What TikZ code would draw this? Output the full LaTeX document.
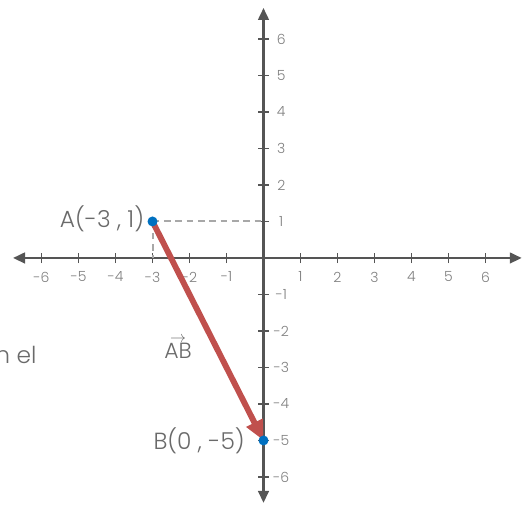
\documentclass[tikz,border=0pt]{standalone}
\usepackage{fontspec}
\IfFontExistsTF{Poppins Light}{\setmainfont{Poppins Light}}{\setmainfont{Poppins}}
\usetikzlibrary{arrows.meta}
\definecolor{axisgray}{HTML}{555555}
\definecolor{ticklab}{HTML}{7F7F7F}
\definecolor{ptlab}{HTML}{6A6A6A}
\definecolor{vecred}{HTML}{C0504D}
\definecolor{ptblue}{HTML}{0070C0}
\definecolor{dashgray}{HTML}{A8A8A8}
\tikzset{
  axis/.style={draw=axisgray, line width=1.8pt, -{Triangle[length=9pt,width=8pt]}},
  tickmark/.style={draw=axisgray, line width=1.4pt},
  ticklabel/.style={text=ticklab, font=\fontsize{10.5}{12}\selectfont, inner sep=0pt},
  ptlabel/.style={text=ptlab, font=\fontsize{17.5}{20}\selectfont, inner sep=0pt},
  guide/.style={draw=dashgray, line width=1.5pt, dash pattern=on 5pt off 3.5pt},
  vector/.style={draw=vecred, line width=4.4pt, -{Triangle[length=15pt,width=13pt]}},
  dot/.style={circle, fill=ptblue, inner sep=0pt, minimum size=7.5pt}
}
\begin{document}
\begin{tikzpicture}[x=27.75pt,y=27.375pt]
\clip (-7.122,-6.822) rectangle (7.149,7.068);
% axes
\coordinate (O) at (0,0);
\coordinate (xl) at (-6.77,0);
\coordinate (xr) at (6.98,0);
\coordinate (yt) at (0,6.85);
\coordinate (yb) at (0,-6.71);
\draw[axis] (O) -- (xr);
\draw[axis] (O) -- (xl);
\draw[axis] (O) -- (yt);
\draw[axis] (O) -- (yb);
% ticks and labels
\foreach \i in {-6,-5,-4,-3,-2,-1,1,2,3,4,5,6}{
  \draw[tickmark] (\i,-0.14) -- (\i,0.14);
  \draw[tickmark] (-0.14,\i) -- (0.14,\i);
  \node[ticklabel] (xt\i) at (\i,-0.52) {\i};
  \node[ticklabel] (yt\i) at (0.48,\i) {\i};
}
% points
\coordinate (A) at (-3,1);
\coordinate (B) at (0,-5);
\coordinate (Ay) at (0,1);
\coordinate (Ax) at (-3,0);
\draw[guide] (A) -- (Ay);
\draw[guide] (A) -- (Ax);
\draw[vector] (A) -- (B);
\node[dot] (Adot) at (A) {};
\node[dot] (Bdot) at (B) {};
\node[ptlabel, anchor=east] (Alab) at (-3.22,1.08) {A(-3 , 1)};
\node[ptlabel, anchor=east] (Blab) at (-0.5,-5.0) {B(0 , -5)};
\node[ptlabel, font=\fontsize{16.5}{18}\selectfont, align=center] (ABlab) at (-2.31,-2.45)
  {\fontsize{12}{12}\selectfont$\rightarrow$\\[-6pt]AB};
% cropped text at left edge
\node[ptlabel, anchor=base east] (frag) at (-6.13,-2.88) {en el};
\end{tikzpicture}
\end{document}
